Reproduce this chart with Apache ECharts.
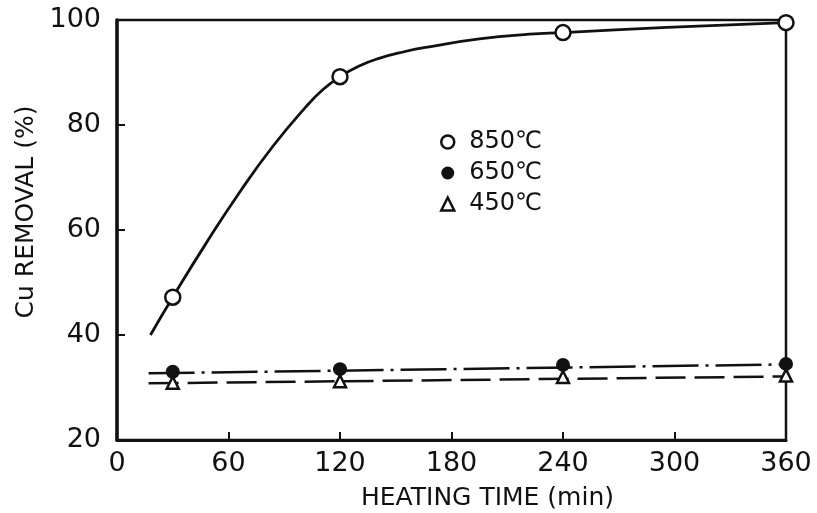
<!DOCTYPE html>
<html>
<head>
<meta charset="utf-8">
<script src="https://cdn.jsdelivr.net/npm/echarts@6/dist/echarts.min.js"></script>
<style>
  html, body { margin: 0; padding: 0; background: #fff; }
  #chart { width: 817px; height: 513px; }
</style>
</head>
<body>
<div id="chart"></div>
<script>
// values
const names = ['850℃', '650℃', '450℃'];

// 850 °C: measured points and the hand-drawn curve through them
const pts850 = [[30, 47.2], [120, 89.2], [240, 97.6], [360, 99.5]];
const curve850 = [[18, 40], [30, 47.2], [48, 57.5], [66, 67.2], [84, 76], [102, 83.6],
  [111, 86.8], [120, 89.2], [130, 91.2], [141, 92.7], [155, 94], [168, 94.9],
  [195, 96.4], [222, 97.3], [240, 97.6], [296, 98.6], [360, 99.5]];

// 650 °C: points and dash-dot fit line
const pts650 = [[30, 33], [120, 33.5], [240, 34.3], [360, 34.5]];
const line650 = [[17, 32.7], [360, 34.4]];

// 450 °C: points and dashed fit line
const pts450 = [[30, 30.9], [120, 31.2], [240, 32], [360, 32.3]];
const line450 = [[17, 30.8], [360, 32.1]];

const font = 'DejaVu Sans';
const ink = '#111';
const chart = echarts.init(document.getElementById('chart'));

chart.setOption({
  backgroundColor: '#fff',
  animation: false,
  textStyle: { fontFamily: font, color: ink },
  grid: {
    left: 117, right: 31, top: 20, bottom: 73,
    outerBoundsMode: 'none',
    show: true, borderColor: ink, borderWidth: 2.5
  },
  legend: {
    orient: 'vertical',
    left: 435,
    top: 125,
    itemGap: 7,
    itemWidth: 13,
    itemHeight: 13,
    textStyle: { fontFamily: font, fontSize: 24, color: ink, padding: [0, 0, 0, 10] },
    data: [
      { name: names[0], icon: 'circle', itemStyle: { color: '#fff', borderColor: ink, borderWidth: 2.5, opacity: 1 } },
      { name: names[1], icon: 'circle', itemStyle: { color: ink, borderWidth: 0, opacity: 1 } },
      { name: names[2], icon: 'triangle', itemStyle: { color: '#fff', borderColor: ink, borderWidth: 2.5, opacity: 1 } }
    ]
  },
  xAxis: {
    type: 'value',
    min: 0, max: 360, interval: 60,
    name: 'HEATING TIME (min)',
    nameLocation: 'middle',
    nameGap: 46,
    nameTextStyle: { fontFamily: font, fontSize: 25, color: ink, padding: [0, 0, 0, 72] },
    axisLine: { show: true, lineStyle: { color: ink, width: 3 } },
    axisTick: { show: true, inside: true, length: 8, lineStyle: { color: ink, width: 2 } },
    axisLabel: { fontFamily: font, fontSize: 27, color: ink, margin: 10 },
    splitLine: { show: false }
  },
  yAxis: {
    type: 'value',
    min: 20, max: 100, interval: 20,
    name: 'Cu REMOVAL (%)',
    nameLocation: 'middle',
    nameGap: 76,
    nameTextStyle: { fontFamily: font, fontSize: 25, color: ink, padding: [0, 0, 0, 36] },
    axisLine: { show: true, lineStyle: { color: ink, width: 3.5 } },
    axisTick: { show: true, inside: true, length: 8, lineStyle: { color: ink, width: 2 } },
    axisLabel: { fontFamily: font, fontSize: 27, color: ink, margin: 16 },
    splitLine: { show: false }
  },
  series: [
    {
      name: '850 curve',
      type: 'line',
      data: curve850,
      smooth: 0.5,
      showSymbol: false,
      silent: true,
      lineStyle: { color: ink, width: 2.8 }
    },
    {
      name: '650 fit',
      type: 'line',
      data: line650,
      showSymbol: false,
      silent: true,
      lineStyle: { color: ink, width: 2.5, type: [46, 7, 3, 7] }
    },
    {
      name: '450 fit',
      type: 'line',
      data: line450,
      showSymbol: false,
      silent: true,
      lineStyle: { color: ink, width: 2.5, type: [30, 9] }
    },
    {
      name: names[2],
      type: 'scatter',
      data: pts450,
      symbol: 'triangle',
      symbolSize: 12,
      z: 4,
      itemStyle: { color: '#fff', borderColor: ink, borderWidth: 2.5, opacity: 1 }
    },
    {
      name: names[1],
      type: 'scatter',
      data: pts650,
      symbol: 'circle',
      symbolSize: 14,
      z: 5,
      itemStyle: { color: ink, opacity: 1 }
    },
    {
      name: names[0],
      type: 'scatter',
      data: pts850,
      symbol: 'circle',
      symbolSize: 15,
      z: 6,
      itemStyle: { color: '#fff', borderColor: ink, borderWidth: 2.5, opacity: 1 }
    }
  ]
});
</script>
</body>
</html>
